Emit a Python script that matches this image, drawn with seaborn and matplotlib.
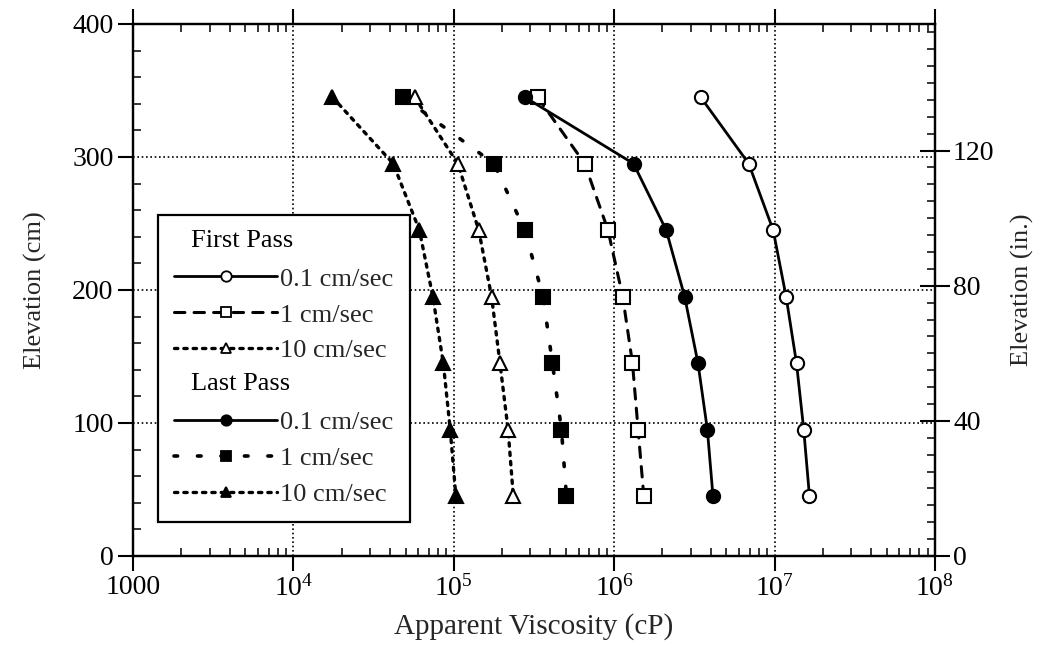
import matplotlib
matplotlib.use("Agg")
import matplotlib.pyplot as plt
from matplotlib.lines import Line2D
from matplotlib.text import Text
from matplotlib.legend_handler import HandlerBase
from matplotlib.ticker import FixedLocator, MultipleLocator, LogLocator, NullFormatter
import seaborn as sns

# Elevation of the measurement ports (cm)
elevation_cm = [345, 295, 245, 195, 145, 95, 45]

# Apparent viscosity (cP) at each elevation
first_pass_01 = [3.46e6, 6.9e6, 9.8e6, 1.18e7, 1.37e7, 1.52e7, 1.65e7]
first_pass_1 = [3.33e5, 6.55e5, 9.15e5, 1.13e6, 1.30e6, 1.41e6, 1.53e6]
first_pass_10 = [5.7e4, 1.06e5, 1.43e5, 1.72e5, 1.94e5, 2.18e5, 2.35e5]
last_pass_01 = [2.77e5, 1.32e6, 2.11e6, 2.75e6, 3.33e6, 3.81e6, 4.13e6]
last_pass_1 = [4.83e4, 1.78e5, 2.77e5, 3.6e5, 4.12e5, 4.69e5, 5.04e5]
last_pass_10 = [1.75e4, 4.19e4, 6.1e4, 7.4e4, 8.6e4, 9.5e4, 1.03e5]

rate_labels = ["0.1 cm/sec", "1 cm/sec", "10 cm/sec"]
group_titles = ["First Pass", "Last Pass"]
x_tick_values = [1e3, 1e4, 1e5, 1e6, 1e7, 1e8]
x_tick_labels = ["1000", "$10^{4}$", "$10^{5}$", "$10^{6}$", "$10^{7}$", "$10^{8}$"]
y_ticks_cm = [0, 100, 200, 300, 400]
y_ticks_in = [0, 40, 80, 120]

sns.set_theme(style="ticks")
plt.rcParams["font.family"] = ["Liberation Serif", "DejaVu Serif"]
plt.rcParams["mathtext.fontset"] = "custom"
plt.rcParams["mathtext.rm"] = "Liberation Serif"
plt.rcParams["mathtext.it"] = "Liberation Serif:italic"
plt.rcParams["mathtext.bf"] = "Liberation Serif:bold"
plt.rcParams["axes.linewidth"] = 1.6

fig = plt.figure(figsize=(10.45, 6.61), dpi=100)
ax = fig.add_axes([0.1273, 0.1589, 0.7674, 0.8048])

solid = "-"
long_dash = (0, (3.4, 3.0))
sparse_dot = (0, (1.0, 5.5))
dense_dot = (0, (1.0, 1.8))

series = [
    (first_pass_01, "o", "white", solid, 2.0),
    (first_pass_1, "s", "white", long_dash, 2.2),
    (first_pass_10, "^", "white", dense_dot, 2.4),
    (last_pass_01, "o", "black", solid, 2.0),
    (last_pass_1, "s", "black", sparse_dot, 2.6),
    (last_pass_10, "^", "black", dense_dot, 2.4),
]

handles = []
for values, marker, face, ls, lw in series:
    sns.lineplot(x=values, y=elevation_cm, ax=ax, sort=False, estimator=None,
                 color="black", linestyle=ls, linewidth=lw, marker=marker,
                 markersize=9.5, markerfacecolor=face, markeredgecolor="black",
                 markeredgewidth=1.5, zorder=3)
    line = ax.lines[-1]
    line.set_dash_capstyle("round")
    handles.append(Line2D([], [], color="black", linestyle=ls, linewidth=lw,
                          marker=marker, markersize=7.5, markerfacecolor=face,
                          markeredgecolor="black", markeredgewidth=1.3,
                          dash_capstyle="round"))

ax.set_xscale("log")
ax.set_xlim(1e3, 1e8)
ax.set_ylim(0, 400)
ax.xaxis.set_major_locator(FixedLocator(x_tick_values))
ax.set_xticks(x_tick_values)
ax.set_xticklabels(x_tick_labels)
ax.xaxis.set_minor_locator(LogLocator(base=10, subs=range(2, 10), numticks=20))
ax.xaxis.set_minor_formatter(NullFormatter())
ax.set_yticks(y_ticks_cm)
ax.yaxis.set_minor_locator(MultipleLocator(20))

ax.grid(True, which="major", color="black", linestyle=(0, (1, 1.6)), linewidth=1.2)
ax.set_axisbelow(True)

ax.tick_params(axis="both", which="major", direction="out", length=11, width=1.5,
               labelsize=20, pad=3, colors="black")
ax.tick_params(axis="x", which="both", top=True)
ax.tick_params(axis="both", which="minor", direction="in", length=5.5, width=1.3)
ax.tick_params(axis="y", which="both", right=False)

for side in ["left", "right", "top", "bottom"]:
    ax.spines[side].set_visible(True)
    ax.spines[side].set_color("black")
    ax.spines[side].set_linewidth(1.6)

ax.set_xlabel("Apparent Viscosity (cP)", fontsize=21, labelpad=8)
ax.set_ylabel("Elevation (cm)", fontsize=19, labelpad=18)

# Secondary scale in inches
ax2 = ax.twinx()
ax2.set_ylim(0, 400 / 2.54)
ax2.set_yticks(y_ticks_in)
ax2.yaxis.set_minor_locator(MultipleLocator(5))
ax2.tick_params(axis="y", which="major", direction="inout", length=22, width=1.5,
                labelsize=20, pad=2, colors="black")
ax2.tick_params(axis="y", which="minor", direction="in", length=5.5, width=1.3)
ax2.set_ylabel("Elevation (in.)", fontsize=19, labelpad=12)
for side in ["left", "right", "top", "bottom"]:
    ax2.spines[side].set_linewidth(1.6)
    ax2.spines[side].set_color("black")


class GroupTitle:
    def __init__(self, text):
        self.text = text


class GroupTitleHandler(HandlerBase):
    def create_artists(self, legend, orig_handle, xdescent, ydescent, width,
                       height, fontsize, trans):
        t = Text(x=-xdescent + 0.65 * fontsize, y=-ydescent + height / 2,
                 text=orig_handle.text, va="center", ha="left",
                 fontsize=fontsize, transform=trans, color="black")
        return [t]


legend_handles = [GroupTitle(group_titles[0])] + handles[:3] + \
                 [GroupTitle(group_titles[1])] + handles[3:]
legend_labels = [""] + rate_labels + [""] + rate_labels

leg = ax2.legend(legend_handles, legend_labels,
                 handler_map={GroupTitle: GroupTitleHandler()},
                 loc="upper left", bbox_to_anchor=(0.031, 0.641),
                 borderaxespad=0, fontsize=19, handlelength=3.9,
                 handletextpad=0.12, borderpad=0.62, labelspacing=0.47,
                 numpoints=1, frameon=True, fancybox=False, framealpha=1,
                 edgecolor="black")
leg.get_frame().set_linewidth(1.6)

fig.savefig("out.png", dpi=100)
